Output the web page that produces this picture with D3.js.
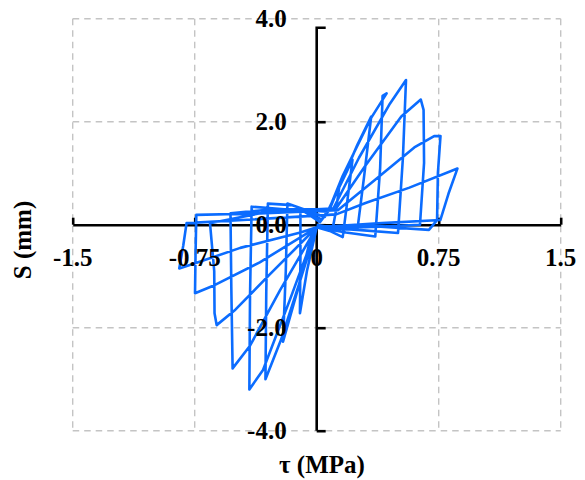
<!DOCTYPE html>
<html><head><meta charset="utf-8">
<script src="https://cdn.jsdelivr.net/npm/d3@7/dist/d3.min.js"></script>
<style>body{margin:0;background:#fff}svg{display:block}</style>
</head><body><svg id="c" width="585" height="480"></svg>
<script>
// τ (MPa) values of the hysteresis path
const tau = [
 0,0.05,0.10,0.12,0.14,0.08,0.02,-0.05,-0.10,-0.10,-0.103,-0.06,0,
 0.08,0.16,0.19,0.22,0.15,0.07,0.03,-0.08,-0.18,-0.19,-0.207,-0.12,-0.04,0,
 0.12,0.25,0.29,0.335,0.25,0.12,0.05,-0.15,-0.30,-0.31,-0.315,-0.22,-0.10,0,
 0.18,0.36,0.39,0.405,0.43,0.33,0.16,0.07,-0.20,-0.40,-0.41,-0.414,-0.33,-0.165,0,
 0.25,0.50,0.53,0.549,0.45,0.26,0.10,-0.27,-0.53,-0.525,-0.517,-0.41,-0.225,0,
 0.30,0.635,0.66,0.657,0.64,0.52,0.30,0.12,-0.30,-0.656,-0.63,-0.628,-0.615,-0.50,-0.29,0,
 0.35,0.69,0.74,0.745,0.761,0.722,0.60,0.35,0.13,-0.35,-0.74,-0.745,-0.748,-0.625,-0.35,0,
 0.40,0.76,0.81,0.865,0.57,0.30,0.12,-0.40,-0.80,-0.82,-0.845,-0.72,-0.47,-0.10,0
];
// S (mm) values of the same path
const slip = [
 0,-0.03,-0.05,0.30,0.77,0.30,0.05,0.20,0.30,-0.60,-1.72,-0.90,-0.05,
 -0.12,-0.24,0.50,1.26,0.80,0.28,0.10,0.30,0.41,-0.90,-2.27,-1.30,-0.30,-0.05,
 -0.05,-0.10,0.90,2.10,1.55,0.60,0.15,0.38,0.41,-1.30,-3.00,-2.24,-1.07,-0.05,
 -0.15,-0.23,1.10,2.50,2.55,2.05,0.95,0.25,0.30,0.35,-1.40,-3.20,-2.82,-1.46,-0.05,
 -0.10,-0.16,1.30,2.81,2.35,1.30,0.30,0.30,0.22,-1.20,-2.79,-2.35,-1.27,-0.05,
 -0.05,0.00,1.20,2.23,2.43,2.10,1.15,0.32,0.25,0.03,-0.90,-1.72,-1.95,-1.65,-0.97,-0.05,
 -0.03,-0.10,0.09,1.00,1.72,1.72,1.50,0.85,0.28,0.22,0.19,-0.60,-1.33,-1.17,-0.73,-0.05,
 0.03,0.09,0.60,1.09,0.72,0.42,0.20,0.10,0.03,-0.40,-0.85,-0.72,-0.45,-0.15,-0.05
];
const xTicks = [-1.5,-0.75,0,0.75,1.5];
const xTickLabels = ["-1.5","-0.75","0","0.75","1.5"];
const yTicks = [4,2,0,-2,-4];
const yTickLabels = ["4.0","2.0","0.0","-2.0","-4.0"];
const xGrid = [-1.5,-0.75,0.75,1.5];
const yGrid = [4,2,-2,-4];
const xTitle = "τ (MPa)";
const yTitle = "S (mm)";

const svg = d3.select("#c");
const x = d3.scaleLinear().domain([-1.5,1.5]).range([72.7,560.7]);
const y = d3.scaleLinear().domain([-4,4]).range([430.7,18.7]);
const font = "'Liberation Serif','Times New Roman',serif";

// grid
const grid = svg.append("g").attr("stroke","#c4c4c4").attr("stroke-width",1.4).attr("stroke-dasharray","6.5,5").attr("fill","none");
grid.selectAll(".v").data(xGrid).join("line").attr("class","v")
  .attr("x1",d=>x(d)).attr("x2",d=>x(d)).attr("y1",y(4)).attr("y2",y(-4));
grid.selectAll(".h").data(yGrid).join("line").attr("class","h")
  .attr("y1",d=>y(d)).attr("y2",d=>y(d)).attr("x1",x(-1.5)).attr("x2",x(1.5));

// axes
const xAxis = d3.axisTop(x).tickValues(xTicks).tickSize(7).tickSizeOuter(0).tickFormat("");
const gx = svg.append("g").attr("transform",`translate(0,${y(0)})`).call(xAxis);
gx.select(".domain").attr("stroke","#000").attr("stroke-width",2.6);
gx.selectAll(".tick line").attr("stroke","#000").attr("stroke-width",2.6);

const yAxis = d3.axisRight(y).tickValues(yTicks.slice(1)).tickSize(9).tickSizeOuter(0).tickFormat("");
const gy = svg.append("g").attr("transform",`translate(${x(0)},0)`).call(yAxis);
gy.select(".domain").remove();
gy.selectAll(".tick line").attr("stroke","#000").attr("stroke-width",2.6);
const yTop = y(4)+9;
gy.append("path").attr("d",`M9,${yTop}H0V${y(-4)}`).attr("stroke","#000").attr("stroke-width",2.6).attr("fill","none");

// data
const pts = tau.map((t,i)=>[t,slip[i]]);
svg.append("path").datum(pts)
  .attr("fill","none").attr("stroke","#0b6cff").attr("stroke-width",2.6).attr("stroke-linejoin","round")
  .attr("d",d3.line().x(d=>x(d[0])).y(d=>y(d[1])));

// labels
const lab = svg.append("g").attr("font-family",font).attr("font-weight","bold").attr("fill","#000");
lab.selectAll(".xl").data(xTicks).join("text").attr("class","xl")
  .attr("x",d=>x(d)).attr("y",y(0)+41).attr("text-anchor","middle").attr("font-size",25)
  .text((d,i)=>xTickLabels[i]);
lab.selectAll(".yl").data(yTicks).join("text").attr("class","yl")
  .attr("x",x(0)-30).attr("y",d=>y(d)+8).attr("text-anchor","end").attr("font-size",25)
  .text((d,i)=>yTickLabels[i]);
lab.append("text").attr("x",322).attr("y",473).attr("text-anchor","middle").attr("font-size",25).text(xTitle);
lab.append("text").attr("transform","translate(31,240) rotate(-90)").attr("text-anchor","middle").attr("font-size",25).text(yTitle);
</script></body></html>
